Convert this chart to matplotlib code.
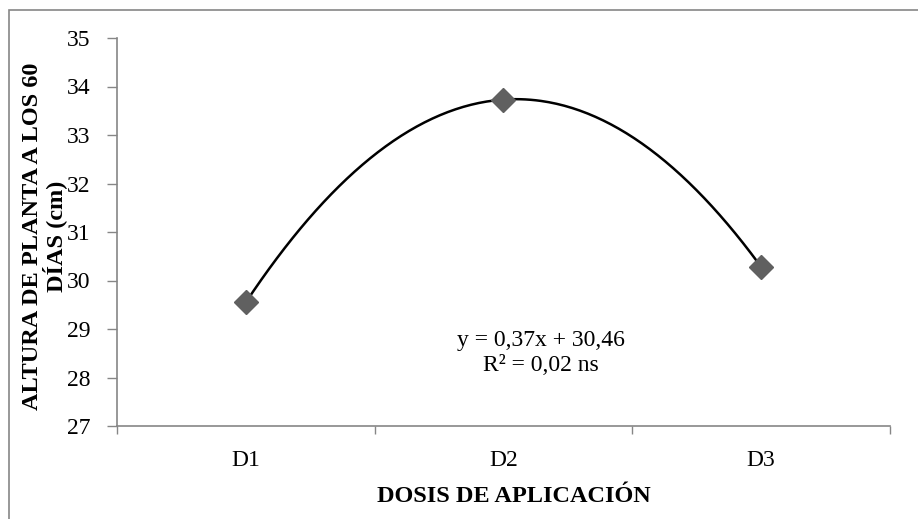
import matplotlib.pyplot as plt
import numpy as np
from matplotlib.patches import Rectangle

plt.rcParams['font.family'] = ['Liberation Serif', 'DejaVu Serif']

categorias = ["D1", "D2", "D3"]
altura = [29.55, 33.73, 30.28]
ecuacion = "y = 0,37x + 30,46"
r2 = "R² = 0,02 ns"

gris = "#868686"

fig = plt.figure(figsize=(9.18, 5.19), dpi=100)
ax = fig.add_axes([117 / 918, 1 - 426 / 519, (890 - 117) / 918, (426 - 38) / 519])

x = np.arange(1, len(categorias) + 1)

# tendencia polinómica de orden 2 (como la de Excel)
coef = np.polyfit(x, altura, 2)
xs = np.linspace(1, 3, 200)
ax.plot(xs, np.polyval(coef, xs), color="black", lw=1.8, zorder=2)
ax.plot(x, altura, linestyle="none", marker="D", markersize=12,
        color="#606060", zorder=3)

ax.set_xlim(0.5, 3.5)
ax.set_ylim(27, 35)
ax.set_yticks(range(27, 36))
ax.tick_params(axis="y", labelsize=17, length=7, color=gris, width=1, pad=12)
ax.set_xticks(x)
ax.set_xticklabels(categorias)
ax.set_xticks([0.5, 1.5, 2.5, 3.5], minor=True)
ax.tick_params(axis="x", which="major", length=0, labelsize=17, pad=17)
ax.tick_params(axis="x", which="minor", length=6, color=gris, width=1)

for lado in ["top", "right"]:
    ax.spines[lado].set_visible(False)
for lado in ["left", "bottom"]:
    ax.spines[lado].set_color(gris)
    ax.spines[lado].set_linewidth(1.2)

ax.set_xlabel("DOSIS DE APLICACIÓN", fontsize=17.5, fontweight="bold")
ax.xaxis.set_label_coords(0.514, -0.155)
ax.set_ylabel("ALTURA DE PLANTA A LOS 60\nDÍAS (cm)", fontsize=17.5,
              fontweight="bold", linespacing=0.95)
ax.yaxis.set_label_coords(-0.065, 0.49)

ax.text(2.146, 28.77, ecuacion, fontsize=17, ha="center", va="center")
ax.text(2.146, 28.24, r2, fontsize=17, ha="center", va="center")

# marco del gráfico
marco = Rectangle((9 / 918, -0.2), 1.2, 1 - 10 / 519 + 0.2, transform=fig.transFigure,
                  fill=False, edgecolor=gris, lw=1.2, clip_on=False)
fig.patches.append(marco)

fig.savefig("out.png", dpi=100)
